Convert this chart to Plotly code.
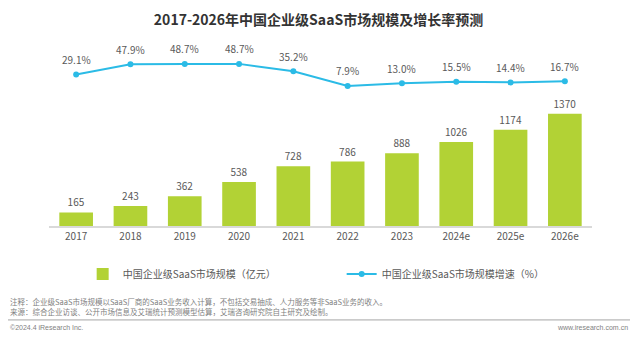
import plotly.graph_objects as go

categories = ["2017", "2018", "2019", "2020", "2021", "2022", "2023", "2024e", "2025e", "2026e"]
market_size = [165, 243, 362, 538, 728, 786, 888, 1026, 1174, 1370]
growth_rate = [29.1, 47.9, 48.7, 48.7, 35.2, 7.9, 13.0, 15.5, 14.4, 16.7]

BAR_COLOR = "#B2D235"
LINE_COLOR = "#2BBBE6"
TEXT_COLOR = "#595959"
FONT = "Noto Sans CJK SC"

fig = go.Figure()
fig.add_trace(go.Bar(
    x=categories, y=market_size, name="中国企业级SaaS市场规模（亿元）",
    marker=dict(color=BAR_COLOR, line=dict(width=0)),
    text=[str(v) for v in market_size], textposition="outside",
    textfont=dict(size=10, color=TEXT_COLOR, family=FONT),
    cliponaxis=False, yaxis="y",
))
fig.add_trace(go.Scatter(
    x=categories, y=growth_rate, name="中国企业级SaaS市场规模增速（%）",
    mode="lines+markers",
    line=dict(color=LINE_COLOR, width=2),
    marker=dict(color=LINE_COLOR, size=6),
    cliponaxis=False, yaxis="y2",
))
# category axis: annotations positioned by category index
for i, v in enumerate(growth_rate):
    fig.add_annotation(x=i, y=v, xref="x", yref="y2", text=f"{v:.1f}%", showarrow=False,
                       yshift=15, font=dict(size=10, color=TEXT_COLOR, family=FONT))

fig.update_layout(
    width=637, height=337,
    margin=dict(l=49, r=45, t=40, b=111),
    paper_bgcolor="white", plot_bgcolor="white",
    font=dict(family=FONT, color=TEXT_COLOR, size=10),
    title=dict(text="<b>2017-2026年中国企业级SaaS市场规模及增长率预测</b>",
               x=0.5, xanchor="center", y=0.94, yanchor="middle",
               font=dict(size=14, color="#333333", family=FONT)),
    bargap=0.38,
    showlegend=True,
    legend=dict(orientation="h", x=0.062, xanchor="left", y=-0.258, yanchor="middle",
                font=dict(size=10, color=TEXT_COLOR, family=FONT),
                entrywidth=214, entrywidthmode="pixels",
                bgcolor="rgba(0,0,0,0)"),
    xaxis=dict(type="category", categoryorder="array", categoryarray=categories,
               range=[-0.5, len(categories) - 0.5],
               showgrid=False, showline=True, linecolor="#D9D9D9", linewidth=1.5,
               ticks="", tickfont=dict(size=10, color=TEXT_COLOR, family=FONT)),
    yaxis=dict(range=[0, 2270], visible=False, showgrid=False),
    yaxis2=dict(range=[-252, 93], overlaying="y", visible=False, showgrid=False),
)

NOTE = "#7F7F7F"
fig.add_annotation(xref="paper", yref="paper", x=-0.0755, y=-0.407, xanchor="left", yanchor="middle",
                   showarrow=False, align="left",
                   text="注释：企业级SaaS市场规模以SaaS厂商的SaaS业务收入计算，不包括交易抽成、人力服务等非SaaS业务的收入。",
                   font=dict(size=7.5, color=NOTE, family=FONT))
fig.add_annotation(xref="paper", yref="paper", x=-0.0755, y=-0.461, xanchor="left", yanchor="middle",
                   showarrow=False, align="left",
                   text="来源：综合企业访谈、公开市场信息及艾瑞统计预测模型估算，艾瑞咨询研究院自主研究及绘制。",
                   font=dict(size=7.5, color=NOTE, family=FONT))
fig.add_shape(type="line", xref="paper", yref="paper", x0=-0.0755, x1=1.07, y0=-0.505, y1=-0.505,
              line=dict(color="#A6A6A6", width=1))
fig.add_annotation(xref="paper", yref="paper", x=-0.0755, y=-0.548, xanchor="left", yanchor="middle",
                   showarrow=False, text="©2024.4 iResearch Inc.",
                   font=dict(size=7, color=NOTE, family="Liberation Sans"))
fig.add_annotation(xref="paper", yref="paper", x=1.07, y=-0.548, xanchor="right", yanchor="middle",
                   showarrow=False, text="www.iresearch.com.cn",
                   font=dict(size=7, color=NOTE, family="Liberation Sans"))

fig.write_html("out.html")
